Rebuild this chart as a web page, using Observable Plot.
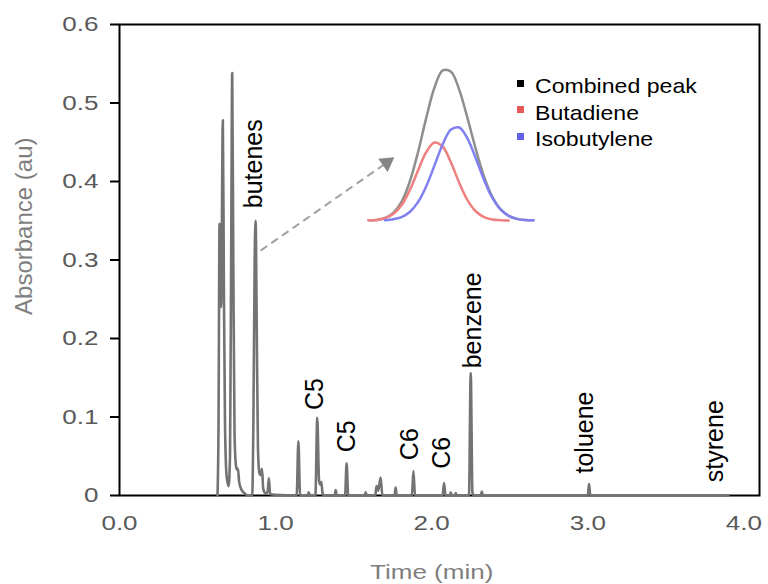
<!DOCTYPE html>
<html>
<head>
<meta charset="utf-8">
<script src="https://cdn.jsdelivr.net/npm/d3@7"></script>
<script src="https://cdn.jsdelivr.net/npm/@observablehq/plot@0.6"></script>
<style>
  html, body { margin: 0; padding: 0; background: white; }
  #chart { position: relative; width: 768px; height: 584px; font-family: "Liberation Sans", Arial, sans-serif; }
  #inset { position: absolute; left: 363px; top: 66px; }
  #legend { position: absolute; left: 517px; top: 73px; font-size: 21px; color: #000; line-height: 26.5px; }
  #legend .row { white-space: nowrap; }
  #legend .sw { display: inline-block; width: 7px; height: 7px; vertical-align: middle; position: relative; top: -4px; }
  #legend .lab { display: inline-block; margin-left: 11px; transform: scaleX(1.1); transform-origin: left center; }
</style>
</head>
<body>
<div id="chart"></div>
<script>
// ---- main chromatogram trace (time in min, absorbance in au) ----
const traceTime = [0.628,0.634,0.641,0.651,0.662,0.669,0.676,0.686,0.699,0.708,0.716,0.722,0.729,0.737,0.745,0.752,0.759,0.766,0.780,0.800,0.825,
  0.850,0.858,0.866,0.872,0.879,0.887,0.897,0.905,0.913,0.921,0.935,0.948,0.957,0.965,1.000,
  1.135,1.146,1.157,1.205,1.212,1.220,1.255,1.267,1.278,1.286,1.293,1.300,1.310,1.378,1.385,1.392,1.445,1.455,1.465,
  1.570,1.577,1.584,1.638,1.647,1.657,1.673,1.684,1.762,1.769,1.776,1.873,1.883,1.893,
  2.070,2.079,2.089,2.116,2.122,2.128,2.148,2.154,2.160,2.239,2.250,2.261,2.270,2.314,2.321,2.328,
  3.000,3.008,3.016,3.900];
const traceAbs = [0,0.08,0.346,0.240,0.478,0.26,0.09,0.025,0.012,0.05,0.33,0.538,0.30,0.08,0.040,0.033,0.034,0.018,0.008,0.003,0,
  0,0.10,0.30,0.350,0.22,0.06,0.028,0.026,0.034,0.008,0.003,0.004,0.022,0.002,0.001,
  0,0.069,0,0,0.004,0,0,0.099,0.02,0.014,0.017,0.004,0,0,0.007,0,0,0.041,0,
  0,0.004,0,0,0.012,0.006,0.023,0,0,0.010,0,0,0.031,0,
  0,0.016,0,0,0.004,0,0,0.003,0,0,0.156,0.004,0,0,0.005,0,
  0,0.015,0,0];

// ---- peak labels ----
const peakNames = ["butenes","C5","C5","C6","C6","benzene","toluene","styrene"];
const peakLabelTime = [0.861,1.250,1.455,1.859,2.064,2.263,2.980,3.814];
const peakLabelAbs  = [0.366,0.109,0.055,0.045,0.034,0.162,0.028,0.017];

// ---- axis ticks ----
const xTicks = [0,1,2,3,4];
const yTicks = [0,0.1,0.2,0.3,0.4,0.5,0.6];

// ---- dashed pointer arrow (time, absorbance) ----
const arrowFrom = [0.904, 0.312];
const arrowTo   = [1.712, 0.424];

// ---- inset: deconvolution of the butenes peak (relative units) ----
const insetX      = [0,0.5,1,1.5,2,2.5,3,3.5,4,4.5,5,5.5,6,6.5,7,7.5,8,8.5,9,9.5,10];
const combined    = [0.001,0.004,0.017,0.051,0.125,0.260,0.458,0.689,0.893,1.007,0.999,0.877,0.687,0.480,0.296,0.160,0.076,0.031,0.011,0.003,0.001];
const butadiene   = [0.001,0.004,0.015,0.043,0.102,0.203,0.335,0.459,0.523,0.495,0.389,0.253,0.137,0.062,0.023,0.007,0.002,0.000,null,null,null];
const isobutylene = [null,null,0.002,0.008,0.023,0.057,0.123,0.230,0.370,0.512,0.610,0.624,0.550,0.418,0.273,0.153,0.074,0.031,0.011,0.003,0.001];

const legendNames  = ["Combined peak","Butadiene","Isobutylene"];
const legendColors = ["#000000","#e8585a","#6262e4"];
const lineColors   = ["#8e8e8e","#f08080","#8080f0"];

const trace = traceTime.map((t,i) => ({t, a: traceAbs[i]}));
const labels = peakNames.map((n,i) => ({n, t: peakLabelTime[i], a: peakLabelAbs[i]}));
const arrow = [{x1: arrowFrom[0], y1: arrowFrom[1], x2: arrowTo[0], y2: arrowTo[1]}];

const main = Plot.plot({
  width: 768, height: 584,
  marginLeft: 119, marginRight: 9, marginTop: 24, marginBottom: 89,
  x: {domain: [0, 4.1]},
  y: {domain: [0, 0.6]},
  style: {fontFamily: '"Liberation Sans", Arial, sans-serif', background: "white", overflow: "visible"},
  marks: [
    Plot.frame({stroke: "black", strokeWidth: 2}),
    Plot.axisY(yTicks, {tickSize: 9, tickPadding: 12, stroke: "black", strokeWidth: 2, fill: "#595959", fontSize: 21,
      tickFormat: d => d === 0 ? "0" : d.toFixed(1), label: null}),
    Plot.axisX(xTicks, {tickSize: 0, tickPadding: 20, fill: "#595959", fontSize: 21,
      tickFormat: d => d.toFixed(1), label: null}),
    Plot.text(["Absorbance (au)"], {frameAnchor: "left", y: [0.343], dx: -95, rotate: -90, fontSize: 24, fill: "#7f7f7f", textAnchor: "middle", lineAnchor: "middle"}),
    Plot.text(["Time (min)"], {frameAnchor: "bottom", x: [2.0], dy: 77, fontSize: 21, fill: "#7f7f7f", textAnchor: "middle", lineAnchor: "middle"}),
    Plot.line(trace, {x: "t", y: "a", stroke: "#737373", strokeWidth: 2.6, curve: "monotone-x"}),
    Plot.text(labels, {x: "t", y: "a", text: "n", rotate: -90, textAnchor: "start", lineAnchor: "middle", fontSize: 25, fill: "black"}),
    Plot.link(arrow, {x1: "x1", y1: "y1", x2: "x2", y2: "y2", stroke: "#a0a0a0", strokeWidth: 2, strokeDasharray: "8,5"}),
    Plot.dot(arrow, {x: "x2", y: "y2", symbol: "triangle", r: 6, fill: "#858585", stroke: "none", rotate: 54.5})
  ]
});
document.getElementById("chart").appendChild(main);

// horizontal texts in the reference are drawn slightly wide: stretch them horizontally about their anchor
function stretch(el, s) {
  const tr = el.getAttribute("transform");
  if (tr) el.setAttribute("transform", tr + ` scale(${s},1)`);
  else {
    const x = +el.getAttribute("x") || 0, y = +el.getAttribute("y") || 0;
    el.setAttribute("transform", `translate(${x},${y}) scale(${s},1) translate(${-x},${-y})`);
  }
}
main.querySelectorAll('g[aria-label="y-axis tick label"] text, g[aria-label="x-axis tick label"] text').forEach(el => stretch(el, 1.24));
main.querySelectorAll("text").forEach(el => { if (el.textContent === "Time (min)") stretch(el, 1.24); });

// inset plot
const insetRows = [];
[combined, butadiene, isobutylene].forEach((arr, k) => {
  insetX.forEach((x, i) => insetRows.push({x, y: arr[i], s: legendNames[k]}));
});
const inset = Plot.plot({
  width: 175, height: 159,
  marginLeft: 5, marginRight: 5, marginTop: 5, marginBottom: 5,
  x: {domain: [0, 10], axis: null},
  y: {domain: [0, 1], axis: null},
  style: {background: "transparent", overflow: "visible"},
  marks: legendNames.map((name, k) =>
    Plot.line(insetRows.filter(d => d.s === name), {x: "x", y: "y", stroke: lineColors[k], strokeWidth: 2.5, curve: "catmull-rom"}))
});
inset.id = "inset";
document.getElementById("chart").appendChild(inset);

// legend
const leg = document.createElement("div");
leg.id = "legend";
legendNames.forEach((n, i) => {
  const row = document.createElement("div");
  row.className = "row";
  const sw = document.createElement("span");
  sw.className = "sw";
  sw.style.background = legendColors[i];
  const lab = document.createElement("span");
  lab.className = "lab";
  lab.textContent = n;
  row.appendChild(sw);
  row.appendChild(lab);
  leg.appendChild(row);
});
document.getElementById("chart").appendChild(leg);
</script>
</body>
</html>
